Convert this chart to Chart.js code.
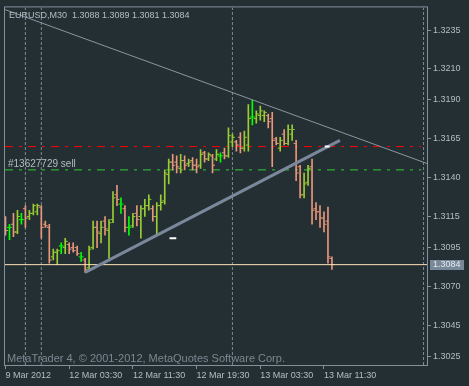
<!DOCTYPE html>
<html>
<head>
<meta charset="utf-8">
<script src="https://cdn.jsdelivr.net/npm/chart.js@4.4.1/dist/chart.umd.min.js"></script>
<style>
  html, body { margin: 0; padding: 0; background: #232f33; }
  #wrap { width: 469px; height: 386px; }
</style>
</head>
<body>
<div id="wrap"><canvas id="chart" width="469" height="386"></canvas></div>
<script>
// EURUSD M30, one entry per bar, from 9 Mar 2012 late session to 13 Mar 2012 midday
const opens = [
  1.3113, 1.3108, 1.3110, 1.3105, 1.3113, 1.3120, 1.3115, 1.3117, 1.3118, 1.3121,
  1.3110, 1.3108, 1.3089, 1.3092, 1.3096, 1.3095, 1.3097, 1.3095, 1.3095, 1.3089,
  1.3087, 1.3082, 1.3095, 1.3108, 1.3104, 1.3112, 1.3106, 1.3113, 1.3129, 1.3123,
  1.3120, 1.3108, 1.3109, 1.3117, 1.3115, 1.3120, 1.3122, 1.3120, 1.3115, 1.3122,
  1.3125, 1.3142, 1.3150, 1.3150, 1.3146, 1.3151, 1.3149, 1.3151, 1.3148, 1.3148,
  1.3156, 1.3152, 1.3154, 1.3152, 1.3154, 1.3156, 1.3154, 1.3163, 1.3163, 1.3166,
  1.3159, 1.3161, 1.3179, 1.3178, 1.3180, 1.3180, 1.3180, 1.3178, 1.3165, 1.3159,
  1.3168, 1.3162, 1.3168, 1.3162, 1.3147, 1.3129, 1.3137, 1.3147, 1.3120, 1.3118,
  1.3114, 1.3112, 1.3088
];
const highs = [
  1.3115, 1.3110, 1.3117, 1.3119, 1.3117, 1.3122, 1.3119, 1.3123, 1.3123, 1.3122,
  1.3112, 1.3110, 1.3094, 1.3094, 1.3098, 1.3101, 1.3098, 1.3098, 1.3096, 1.3092,
  1.3088, 1.3096, 1.3112, 1.3112, 1.3112, 1.3115, 1.3113, 1.3131, 1.3135, 1.3127,
  1.3122, 1.3115, 1.3117, 1.3122, 1.3122, 1.3126, 1.3129, 1.3122, 1.3124, 1.3129,
  1.3145, 1.3152, 1.3155, 1.3154, 1.3155, 1.3154, 1.3152, 1.3153, 1.3152, 1.3158,
  1.3157, 1.3156, 1.3155, 1.3158, 1.3156, 1.3159, 1.3172, 1.3168, 1.3164, 1.3169,
  1.3170, 1.3187, 1.3190, 1.3183, 1.3186, 1.3183, 1.3181, 1.3182, 1.3166, 1.3166,
  1.3171, 1.3174, 1.3174, 1.3164, 1.3148, 1.3143, 1.3148, 1.3152, 1.3124, 1.3122,
  1.3118, 1.3121, 1.3089
];
const lows = [
  1.3103, 1.3100, 1.3102, 1.3104, 1.3110, 1.3108, 1.3113, 1.3116, 1.3116, 1.3101,
  1.3108, 1.3085, 1.3087, 1.3084, 1.3091, 1.3091, 1.3091, 1.3092, 1.3090, 1.3086,
  1.3079, 1.3081, 1.3094, 1.3095, 1.3098, 1.3103, 1.3088, 1.3111, 1.3122, 1.3117,
  1.3105, 1.3103, 1.3108, 1.3109, 1.3101, 1.3115, 1.3119, 1.3112, 1.3103, 1.3119,
  1.3123, 1.3136, 1.3145, 1.3143, 1.3143, 1.3145, 1.3147, 1.3145, 1.3143, 1.3146,
  1.3150, 1.3151, 1.3143, 1.3151, 1.3150, 1.3152, 1.3153, 1.3160, 1.3157, 1.3156,
  1.3157, 1.3157, 1.3174, 1.3175, 1.3177, 1.3176, 1.3172, 1.3147, 1.3161, 1.3157,
  1.3161, 1.3161, 1.3164, 1.3138, 1.3127, 1.3127, 1.3135, 1.3110, 1.3113, 1.3108,
  1.3105, 1.3085, 1.3081
];
const closes = [
  1.3106, 1.3108, 1.3105, 1.3115, 1.3113, 1.3114, 1.3117, 1.3122, 1.3122, 1.3108,
  1.3109, 1.3087, 1.3092, 1.3093, 1.3096, 1.3099, 1.3094, 1.3093, 1.3091, 1.3089,
  1.3081, 1.3094, 1.3108, 1.3105, 1.3108, 1.3107, 1.3111, 1.3127, 1.3126, 1.3123,
  1.3108, 1.3108, 1.3115, 1.3113, 1.3120, 1.3122, 1.3126, 1.3115, 1.3122, 1.3124,
  1.3143, 1.3150, 1.3148, 1.3147, 1.3151, 1.3148, 1.3150, 1.3148, 1.3147, 1.3155,
  1.3152, 1.3155, 1.3148, 1.3155, 1.3154, 1.3154, 1.3167, 1.3166, 1.3161, 1.3159,
  1.3166, 1.3178, 1.3179, 1.3181, 1.3183, 1.3182, 1.3176, 1.3164, 1.3162, 1.3164,
  1.3162, 1.3171, 1.3171, 1.3143, 1.3129, 1.3136, 1.3146, 1.3119, 1.3118, 1.3114,
  1.3110, 1.3089, 1.3084
];

const yTicks = [1.3235, 1.3210, 1.3190, 1.3165, 1.3140, 1.3115, 1.3095, 1.3070, 1.3045, 1.3025];
const xTickBars = [0, 16, 32, 48, 64, 80];
const xTickLabels = ['9 Mar 2012', '12 Mar 03:30', '12 Mar 11:30', '12 Mar 19:30', '13 Mar 03:30', '13 Mar 11:30'];
const daySeparators = [5, 9, 57, 105];

const bidPrice = 1.3084;
const sellPrice = 1.3145;
const stopPrice = 1.3160;
const downTrend = [{x: -1, y: 1.3249}, {x: 106, y: 1.3149}];
const upTrend = [{x: 20, y: 1.3079}, {x: 84, y: 1.3164}];
const markA = [{x: 41.2, y: 1.3101}, {x: 42.9, y: 1.3101}];
const markB = [{x: 80.2, y: 1.3160}, {x: 81.4, y: 1.3160}];

// visible window (bar index / price)
const xMin = -0.125, xMax = 105.875;
const yMin = 1.30194, yMax = 1.32496;

const upColor = '#9acd32';
const downColor = '#e9967a';
const dojiColor = '#00ff00';
const frameColor = '#83909b';
const labelColor = '#b4bdc6';
const fontFamily = '"Liberation Sans", Arial, sans-serif';
const tickOff = 0.375; // open/close tick offset from the bar, in bars

const barColors = opens.map((o, i) => closes[i] > o ? upColor : (closes[i] < o ? downColor : dojiColor));

function hLine(y, from, to, color, width, dash) {
    return {
        type: 'line',
        data: [{x: from, y: y}, {x: to, y: y}],
        borderColor: color,
        borderWidth: width,
        borderDash: dash || [],
        pointRadius: 0,
        clip: 0
    };
}

const separatorSets = daySeparators.map(s => ({
    type: 'line',
    data: [{x: s, y: yMin}, {x: s, y: yMax}],
    borderColor: '#7d8a95',
    borderWidth: 1,
    borderDash: [3, 2],
    pointRadius: 0,
    clip: 0
}));

const mtOverlay = {
    id: 'mtOverlay',
    beforeDatasetsDraw(chart) {
        const {ctx, chartArea: a} = chart;
        ctx.save();
        ctx.font = '11px ' + fontFamily;
        ctx.fillStyle = '#7c8791';
        ctx.textBaseline = 'alphabetic';
        ctx.fillText('MetaTrader 4, \u00a9 2001-2012, MetaQuotes Software Corp.', a.left + 2, a.bottom - 3);
        ctx.restore();
    },
    afterDraw(chart) {
        const {ctx, chartArea: a, scales} = chart;
        const y = scales.y;
        ctx.save();
        ctx.strokeStyle = frameColor;
        ctx.lineWidth = 1;
        ctx.strokeRect(a.left - 0.5, a.top - 0.5, a.right - a.left + 1, a.bottom - a.top + 1);

        // bid price label
        const by = y.getPixelForValue(bidPrice);
        ctx.fillStyle = '#778899';
        ctx.fillRect(a.right + 3, Math.round(by) - 5, 34, 10);
        ctx.fillStyle = '#e8ecef';
        ctx.font = '9px ' + fontFamily;
        ctx.textBaseline = 'middle';
        ctx.fillText(bidPrice.toFixed(4), a.right + 6, by);

        // order label
        ctx.fillStyle = labelColor;
        ctx.textBaseline = 'alphabetic';
        ctx.font = '10px ' + fontFamily;
        ctx.fillText('#13627729 sell', a.left + 3, y.getPixelForValue(sellPrice) - 3);

        // symbol and last bar
        const n = opens.length - 1;
        const title = 'EURUSD,M30  ' + [opens[n], highs[n], lows[n], closes[n]].map(v => v.toFixed(4)).join(' ');
        ctx.font = '9px ' + fontFamily;
        ctx.fillText(title, a.left + 4, a.top + 11);
        ctx.restore();
    }
};

const font = {family: fontFamily, size: 9};

new Chart(document.getElementById('chart'), {
    type: 'scatter',
    data: {
        datasets: [
            {type: 'line', data: markA, borderColor: '#ffffff', borderWidth: 2, pointRadius: 0, clip: 0},
            {type: 'line', data: markB, borderColor: '#ffffff', borderWidth: 2, pointRadius: 0, clip: 0},
            {type: 'line', data: upTrend, borderColor: '#7b889b', borderWidth: 3, pointRadius: 0, clip: 0},
            {type: 'line', data: downTrend, borderColor: '#8996a3', borderWidth: 1, pointRadius: 0, clip: 0},
            hLine(bidPrice, xMin, xMax, '#ffe4b5', 1),
            {
                type: 'scatter',
                data: opens.map((o, i) => ({x: i - tickOff, y: o})),
                pointStyle: 'line',
                pointRadius: 1,
                pointBorderWidth: 1,
                pointBorderColor: barColors
            },
            {
                type: 'scatter',
                data: closes.map((c, i) => ({x: i + tickOff, y: c})),
                pointStyle: 'line',
                pointRadius: 1,
                pointBorderWidth: 1,
                pointBorderColor: barColors
            },
            {
                type: 'bar',
                data: highs.map((h, i) => ({x: i, y: [lows[i], h]})),
                backgroundColor: barColors,
                borderWidth: 0,
                barThickness: 1,
                grouped: false
            },
            hLine(stopPrice, xMin, 104.4, '#ff0000', 1, [8, 6, 3, 6]),
            hLine(sellPrice, xMin, 104.4, '#32cd32', 1, [8, 6, 3, 6]),
            ...separatorSets
        ]
    },
    options: {
        responsive: false,
        animation: false,
        devicePixelRatio: 1,
        events: [],
        layout: {padding: {left: 3, top: 3, right: 0, bottom: 0}},
        plugins: {legend: {display: false}, tooltip: {enabled: false}},
        scales: {
            x: {
                type: 'linear',
                min: xMin,
                max: xMax,
                offset: false,
                afterBuildTicks: axis => { axis.ticks = xTickBars.map(v => ({value: v})); },
                afterFit: axis => { axis.height = 21; },
                ticks: {
                    align: 'start',
                    autoSkip: false,
                    maxRotation: 0,
                    padding: 1,
                    color: labelColor,
                    font: font,
                    callback: (v, i) => xTickLabels[i]
                },
                grid: {drawOnChartArea: false, tickLength: 4, tickColor: frameColor, offset: false},
                border: {display: false}
            },
            y: {
                type: 'linear',
                position: 'right',
                min: yMin,
                max: yMax,
                afterBuildTicks: axis => { axis.ticks = yTicks.map(v => ({value: v})); },
                afterFit: axis => { axis.width = 42; },
                ticks: {
                    padding: 2,
                    color: labelColor,
                    font: font,
                    callback: v => v.toFixed(4)
                },
                grid: {drawOnChartArea: false, tickLength: 4, tickColor: frameColor},
                border: {display: false}
            }
        }
    },
    plugins: [mtOverlay]
});
</script>
</body>
</html>
